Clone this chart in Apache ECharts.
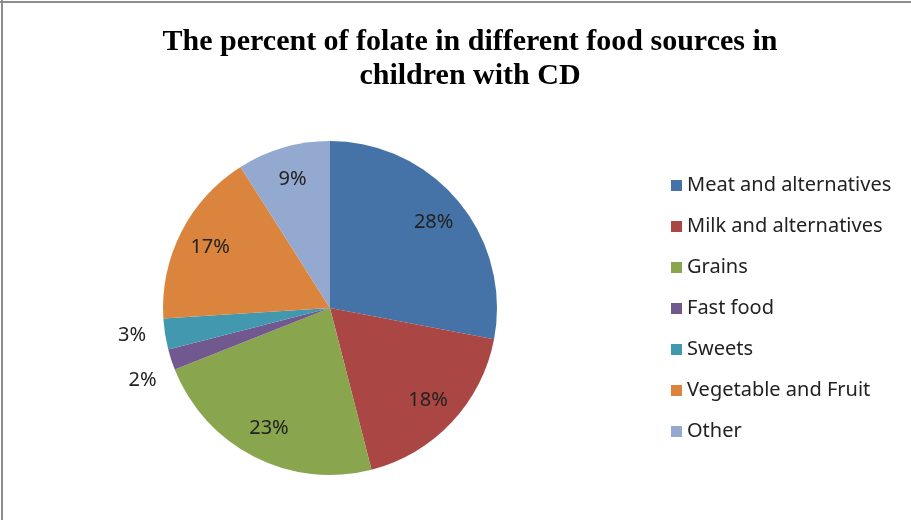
<!DOCTYPE html>
<html lang="en">
<head>
    <meta charset="UTF-8">
    <title>folate pie</title>
    <style>
        html, body { margin: 0; padding: 0; background: #fff; }
    </style>
</head>
<body>
<div id="main" style="width: 911px;height:520px;"></div>
<script src="https://cdn.jsdelivr.net/npm/echarts@6/dist/echarts.min.js"></script>
<script>

const categories = ['Meat and alternatives', 'Milk and alternatives', 'Grains', 'Fast food', 'Sweets', 'Vegetable and Fruit', 'Other']
const percents = [28, 18, 23, 2, 3, 17, 9]
const colors = ['#4572A7', '#AA4643', '#89A54E', '#71588F', '#4198AF', '#DB843D', '#93A9CF']
// slices too thin for an inside label get their label outside
const outsideLabel = ['Fast food', 'Sweets']

let chartDom = document.getElementById('main');
let myChart = echarts.init(chartDom);
let option;

const FONT = 'Noto Sans'
const CENTER = [330, 308]
const R = 167

let mainData = categories.map((name, i) => {
    let outside = outsideLabel.indexOf(name) >= 0
    let label = {show: outside}
    // excel nudges the 2% label down, away from the 3%
    if (name === 'Fast food') label.offset = [4, 18]
    return {
        name: name,
        value: percents[i],
        itemStyle: {color: colors[i]},
        label: label,
        labelLine: {show: false, length: 8, length2: 6}
    }
})

let labelData = categories.map((name, i) => {
    let outside = outsideLabel.indexOf(name) >= 0
    return {
        name: name,
        value: percents[i],
        label: {show: !outside}
    }
})

option = {
    animation: false,
    color: colors,
    title: {
        text: 'The percent of folate in different food sources in\nchildren with CD',
        left: 465,
        top: 20,
        textAlign: 'center',
        textStyle: {
            fontFamily: 'Liberation Serif',
            fontWeight: 'bold',
            fontSize: 30,
            lineHeight: 34,
            color: '#000'
        }
    },
    legend: {
        orient: 'vertical',
        left: 666,
        top: 170,
        data: categories,
        icon: 'rect',
        itemWidth: 11,
        itemHeight: 11,
        itemGap: 20,
        textStyle: {
            fontFamily: FONT,
            fontSize: 20,
            lineHeight: 21,
            color: '#222'
        },
        selectedMode: false
    },
    graphic: [
        {type: 'line', shape: {x1: 0, y1: 2, x2: 911, y2: 2}, style: {stroke: '#8c8c8c', lineWidth: 2}},
        {type: 'line', shape: {x1: 2, y1: 0, x2: 2, y2: 520}, style: {stroke: '#8c8c8c', lineWidth: 2}}
    ],
    series: [
        {
            name: 'folate',
            type: 'pie',
            center: CENTER,
            radius: R,
            startAngle: 90,
            clockwise: true,
            avoidLabelOverlap: false,
            silent: true,
            label: {
                position: 'outside',
                formatter: '{c}%',
                fontFamily: FONT,
                fontSize: 20,
                color: '#222'
            },
            itemStyle: {borderWidth: 0},
            data: mainData
        },
        {
            // transparent ring only used to place the inside labels
            name: 'labels',
            type: 'pie',
            center: CENTER,
            radius: [96, R],
            startAngle: 90,
            clockwise: true,
            silent: true,
            avoidLabelOverlap: false,
            itemStyle: {color: 'rgba(0,0,0,0)'},
            label: {
                position: 'inside',
                formatter: '{c}%',
                fontFamily: FONT,
                fontSize: 20,
                color: '#222'
            },
            labelLine: {show: false},
            data: labelData
        }
    ]
}

option && myChart.setOption(option);

</script>
</body>
</html>
